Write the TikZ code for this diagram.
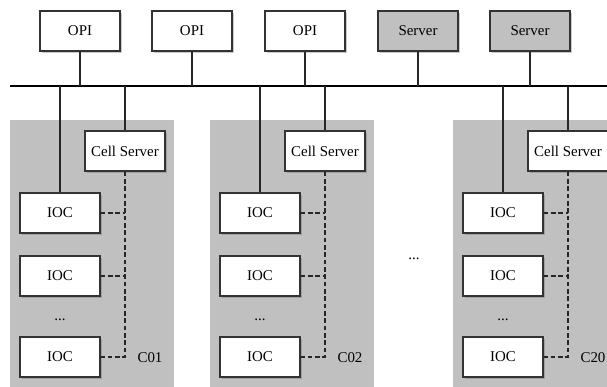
\documentclass[tikz,border=0pt]{standalone}
\usepackage{fontspec}
\setmainfont{Liberation Serif}
\usetikzlibrary{shadows}
\definecolor{cellgray}{HTML}{C0C0C0}

\begin{document}
\begin{tikzpicture}[x=0.75pt,y=-0.75pt,
    unit/.style={draw=black!80,line width=0.9pt,fill=white,minimum width=60pt,minimum height=30pt,inner sep=0pt,
      font=\fontsize{11.2}{12}\selectfont,
      drop shadow={shadow xshift=1.2pt,shadow yshift=-1.2pt,opacity=0.35,fill=black!60}},
    srv/.style={unit,fill=cellgray},
    tag/.style={font=\fontsize{11.2}{12}\selectfont,inner sep=0pt},
    link/.style={line width=0.9pt,draw=black!85},
    dlink/.style={link,dash pattern=on 3.5pt off 2pt},
    bus/.style={line width=1.8pt,draw=black}]
    \useasboundingbox (0,0) rectangle (607,386);
    \clip (0,0) rectangle (607,386);
    % network bus
    \coordinate (busl) at (10,86);
    \coordinate (busr) at (607,86);
    % operator consoles and servers
    \foreach \x/\n in {80/1,192/2,305/3}
        \node[unit] (opi\n) at (\x,31) {OPI};
    \foreach \x/\n in {418/1,530/2}
        \node[srv] (srv\n) at (\x,31) {Server};
    \draw[bus] (busl) -- (busr);
    \foreach \n in {opi1,opi2,opi3,srv1,srv2}
        \draw[link] (\n.south) -- (\n |- busl);
    % cells
    \foreach \dx/\lab/\c in {0/C01/a,200/C02/b,443/C20/c}{
        \fill[cellgray] (10+\dx,120) rectangle (174+\dx,390);
        \node[unit] (cs\c) at (125+\dx,151) {Cell Server};
        \node[unit] (\c1) at (60+\dx,213) {IOC};
        \node[unit] (\c2) at (60+\dx,276) {IOC};
        \node[tag] (dots\c) at (60+\dx,320) {...};
        \node[unit] (\c3) at (60+\dx,357) {IOC};
        \node[tag] (lab\c) at (150+\dx,358) {\lab};
        \draw[link] (\c1.north) -- (\c1 |- busl);
        \draw[link] (cs\c.north) -- (cs\c |- busl);
        \draw[dlink] (cs\c.south) |- (\c3.east);
        \draw[dlink] (\c1.east) -- (\c1 -| cs\c);
        \draw[dlink] (\c2.east) -- (\c2 -| cs\c);
    }
    \node[tag] (more) at (414,259) {...};
\end{tikzpicture}
\end{document}
